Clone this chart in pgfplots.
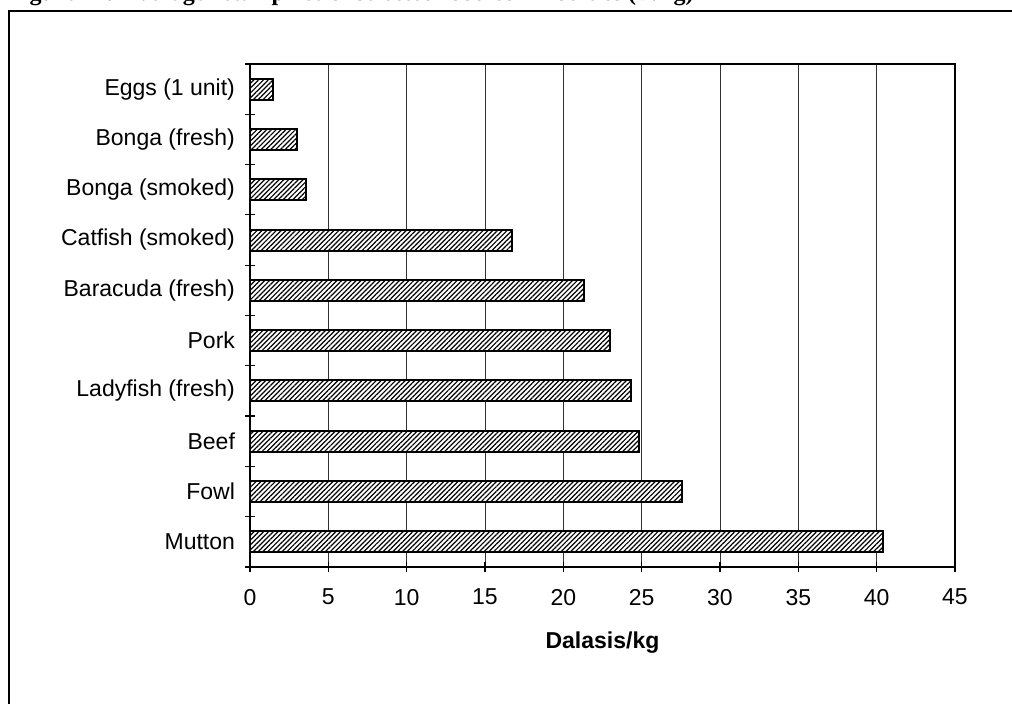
\documentclass[border=0pt]{standalone}
\usepackage{fontspec}
\setmainfont{Liberation Sans}
\newfontfamily\titlefont{Liberation Serif}
\usepackage{pgfplots}
\pgfplotsset{compat=1.18}
\usetikzlibrary{patterns.meta}

\begin{document}
\begin{tikzpicture}
\useasboundingbox (0,0) rectangle (506pt,352pt);
% outer frame of the figure box
\draw[line width=0.8pt] (4.5pt,-5pt) -- (4.5pt,346.5pt) -- (510pt,346.5pt);
% caption above the box (only its lower edge falls on the page)
\node[anchor=base west, inner sep=0pt, font=\titlefont\bfseries\fontsize{12}{14}\selectfont]
  at (4pt,351.6pt) {Figure 12: Average retail price of selected food commodities (D/kg)};
\begin{axis}[
  at={(125pt,68.5pt)}, anchor=south west,
  scale only axis, width=352.5pt, height=251.5pt,
  xmin=0, xmax=45, ymin=-0.5, ymax=9.5,
  xtick={0,5,...,45},
  ytick={0,...,9},
  yticklabels={Mutton,Fowl,Beef,Ladyfish (fresh),Pork,Baracuda (fresh),Catfish (smoked),Bonga (smoked),Bonga (fresh),Eggs (1 unit)},
  minor ytick={-0.5,0.5,...,9.5},
  xtick pos=bottom, ytick pos=left,
  tick align=center,
  major tick length=5pt, minor tick length=5pt,
  major y tick style={draw=none},
  tick style={black, line width=0.6pt},
  xmajorgrids,
  major grid style={black!80, line width=0.5pt},
  axis line style={black, line width=1pt},
  /pgf/number format/assume math mode=true,
  tick label style={font=\fontsize{11.5}{13}\selectfont},
  xticklabel style={yshift=-5pt},
  yticklabel style={xshift=-1.5pt},
  xlabel={Dalasis/kg},
  xlabel style={font=\bfseries\fontsize{11.5}{13}\selectfont, at={(axis description cs:0.5,0)}, anchor=center, yshift=-38pt},
]
\addplot[xbar, bar width=10.5pt, draw=black, line width=1pt, fill=white,
  postaction={pattern={Lines[angle=45,distance=1.7pt,line width=0.6pt]}}]
  coordinates {(40.4,0) (27.6,1) (24.8,2) (24.3,3) (23.0,4) (21.3,5) (16.7,6) (3.6,7) (3.0,8) (1.5,9)};
\end{axis}
\end{tikzpicture}
\end{document}
